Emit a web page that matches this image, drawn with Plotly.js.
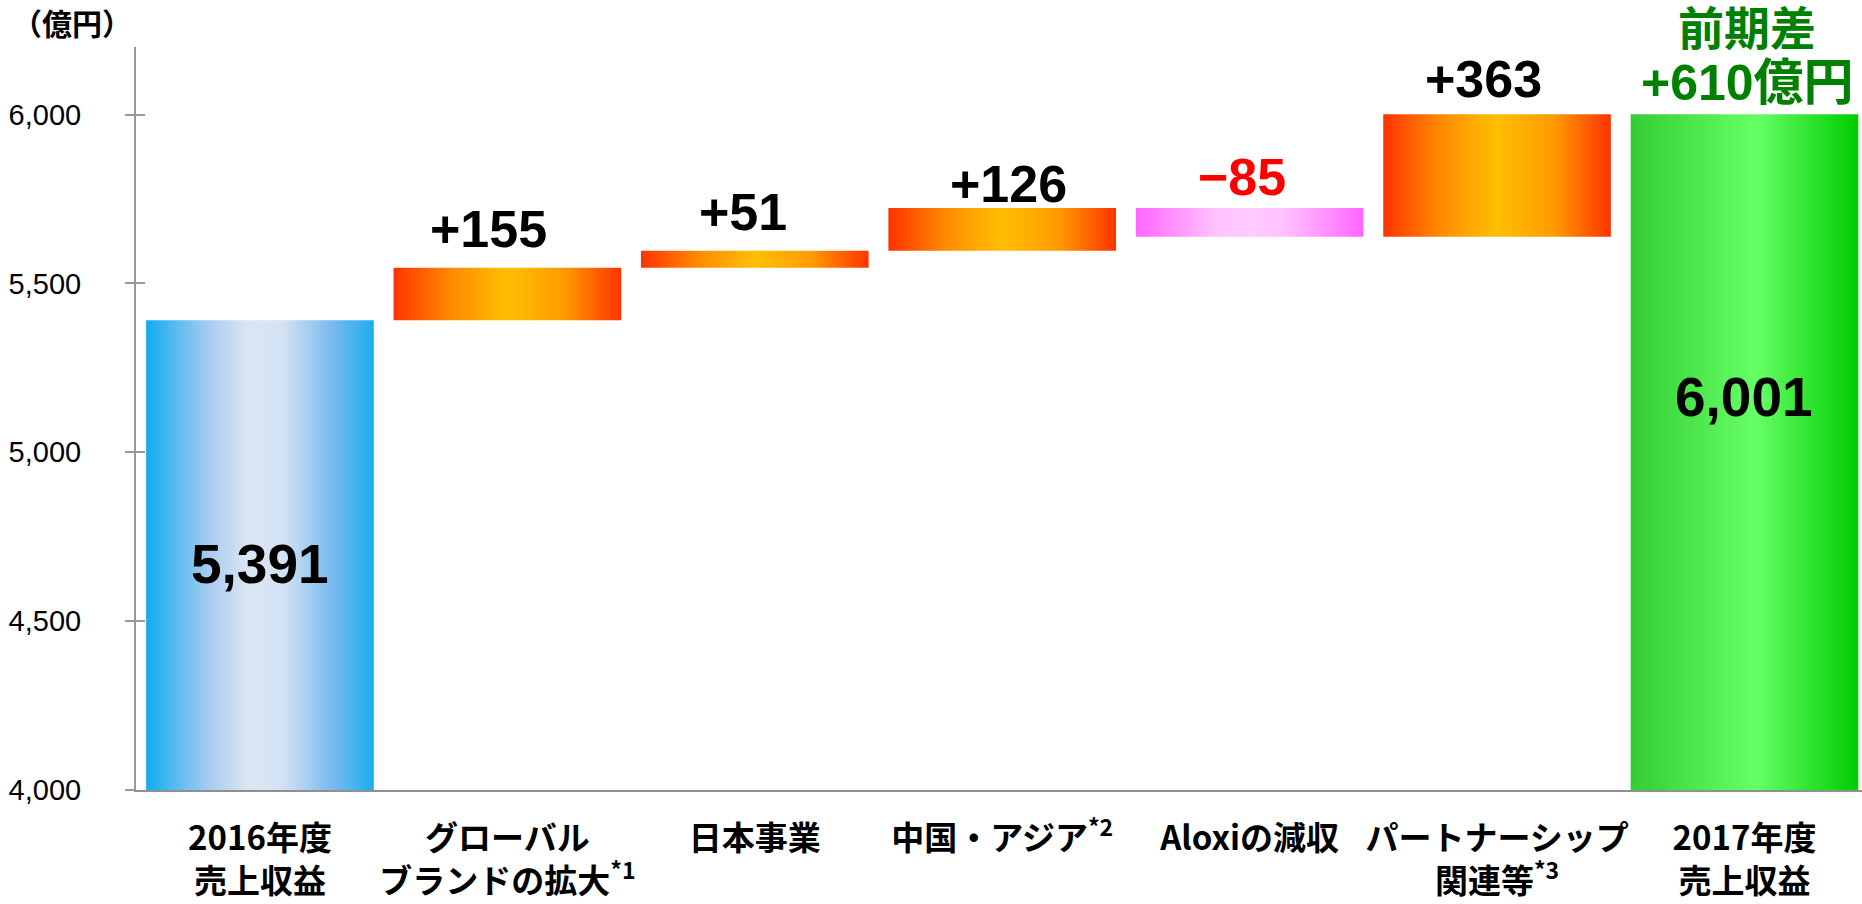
<!DOCTYPE html>
<html>
<head>
<meta charset="utf-8">
<script src="https://cdn.plot.ly/plotly-3.0.1.min.js"></script>
<style>html,body{margin:0;padding:0;background:#fff;}#chart{width:1862px;height:904px;}</style>
</head>
<body>
<div id="chart"></div>
<script>
// ---- data ----
const categories = [
  '2016年度<br>売上収益',
  'グローバル<br>ブランドの拡大<sup>*1</sup>',
  '日本事業',
  '中国・アジア<sup>*2</sup>',
  'Aloxiの減収',
  'パートナーシップ<br>関連等<sup>*3</sup>',
  '2017年度<br>売上収益'
];
const startTotal = 5391;           // 2016年度 売上収益
const deltas = [155, 51, 126, -85, 363];
const endTotal = 6001;             // 2017年度 売上収益
const diffTitle = '前期差';
const diffValue = '+610億円';
const yTickVals = [4000, 4500, 5000, 5500, 6000];
const yTickText = ['4,000', '4,500', '5,000', '5,500', '6,000'];
const unitLabel = '（億円）';

// ---- styles ----
const yRange = [4000, 6200];
const xRange = [-0.501, 6.475];
const barWidth = 0.92;
const deltaLabelXShift = [-19, -12, 6, -8, -14];
const deltaLabelYShift = [8, 8, -7, 0, 4];
const scales = {
  blue:  [[0,'#10ACEE'],[0.28,'#A9CCF0'],[0.45,'#DCE6F3'],[0.6,'#D4E2F3'],[0.82,'#78BAEF'],[1,'#1CADEE']],
  orange:[[0,'#FF3300'],[0.25,'#FF8A00'],[0.5,'#FFC000'],[0.75,'#FF9A00'],[1,'#FF3300']],
  pink:  [[0,'#FF66FF'],[0.35,'#FFC2FF'],[0.5,'#FFCCFF'],[0.65,'#FFC2FF'],[1,'#FF66FF']],
  green: [[0,'#33CC33'],[0.55,'#66FF66'],[1,'#00CC00']]
};

// build bar extents from the data
const bars = [];
bars.push({lo: yRange[0], hi: startTotal, scale: 'blue'});
let run = startTotal;
deltas.forEach(d => {
  const next = run + d;
  bars.push({lo: Math.min(run, next), hi: Math.max(run, next), scale: d >= 0 ? 'orange' : 'pink', delta: d});
  run = next;
});
bars.push({lo: yRange[0], hi: endTotal, scale: 'green'});

const traces = bars.map((b, i) => {
  const x0 = i - barWidth / 2, x1 = i + barWidth / 2;
  return {
    type: 'scatter', mode: 'lines', fill: 'toself',
    x: [x0, x1, x1, x0, x0],
    y: [b.lo, b.lo, b.hi, b.hi, b.lo],
    line: {width: 0, color: 'rgba(0,0,0,0)'},
    fillgradient: {type: 'horizontal', start: x0, stop: x1, colorscale: scales[b.scale]},
    hoverinfo: 'skip', showlegend: false
  };
});
// empty trace carrying the inner tick axis
traces.push({type:'scatter', x:[], y:[], yaxis:'y2', showlegend:false, hoverinfo:'skip'});

const annotations = [];
const numFont = {family: 'Liberation Sans, Arial, sans-serif', size: 52, color: '#000', weight: 'bold'};
let k = 0;
bars.forEach((b, i) => {
  if (b.delta !== undefined) {
    const txt = (b.delta > 0 ? '+' : '−') + Math.abs(b.delta);
    annotations.push({
      x: i, y: b.hi, xref: 'x', yref: 'y', text: txt, showarrow: false,
      yanchor: 'bottom', yshift: deltaLabelYShift[k], xshift: deltaLabelXShift[k],
      font: Object.assign({}, numFont, {color: b.delta < 0 ? '#FF0000' : '#000'})
    });
    k++;
  }
});
annotations.push({x: 0, y: 0.304, xref: 'x', yref: 'paper', text: startTotal.toLocaleString('en-US'),
  showarrow: false, yanchor: 'middle', font: Object.assign({}, numFont, {size: 55})});
annotations.push({x: 6, y: 0.529, xref: 'x', yref: 'paper', text: endTotal.toLocaleString('en-US'),
  showarrow: false, yanchor: 'middle', font: Object.assign({}, numFont, {size: 55})});
const greenFont = {family: 'Liberation Sans, Noto Sans CJK JP, sans-serif', size: 46, color: '#008000', weight: 'bold'};
annotations.push({x: 6, y: 1.0245, xref: 'x', yref: 'paper', text: diffTitle, xshift: 3,
  showarrow: false, yanchor: 'middle', font: greenFont});
annotations.push({x: 6, y: 0.951, xref: 'x', yref: 'paper', text: diffValue, xshift: 3,
  showarrow: false, yanchor: 'middle', font: Object.assign({}, greenFont, {size: 50})});
annotations.push({x: -0.073, y: 1.034, xref: 'paper', yref: 'paper', text: unitLabel,
  showarrow: false, xanchor: 'left', yanchor: 'middle',
  font: {family: 'Noto Sans CJK JP, sans-serif', size: 30, color: '#000', weight: 'bold'}});

const layout = {
  width: 1862, height: 904,
  margin: {l: 136, r: 0, t: 47, b: 114, pad: 0},
  paper_bgcolor: '#fff', plot_bgcolor: '#fff',
  showlegend: false,
  xaxis: {
    range: xRange, tickvals: categories.map((c, i) => i), ticktext: categories,
    showgrid: false, zeroline: false, showline: true, linecolor: '#909090', linewidth: 2,
    ticks: '', ticklabelstandoff: 18,
    tickfont: {family: 'Noto Sans CJK JP, sans-serif', size: 33, color: '#000', weight: 'bold'}
  },
  yaxis: {
    range: yRange, tickvals: yTickVals, ticktext: yTickText,
    showgrid: false, zeroline: false, showline: true, linecolor: '#999', linewidth: 2,
    ticks: 'outside', ticklen: 9, tickwidth: 2, tickcolor: '#999', ticklabelstandoff: 38,
    tickfont: {family: 'Liberation Sans, Arial, sans-serif', size: 29, color: '#000'}
  },
  yaxis2: {
    range: yRange, overlaying: 'y', side: 'left', tickvals: yTickVals, showticklabels: false,
    showgrid: false, zeroline: false, showline: false,
    ticks: 'inside', ticklen: 9, tickwidth: 2, tickcolor: '#999'
  },
  annotations: annotations
};

Plotly.newPlot('chart', traces, layout, {displayModeBar: false, staticPlot: true});
</script>
</body>
</html>
